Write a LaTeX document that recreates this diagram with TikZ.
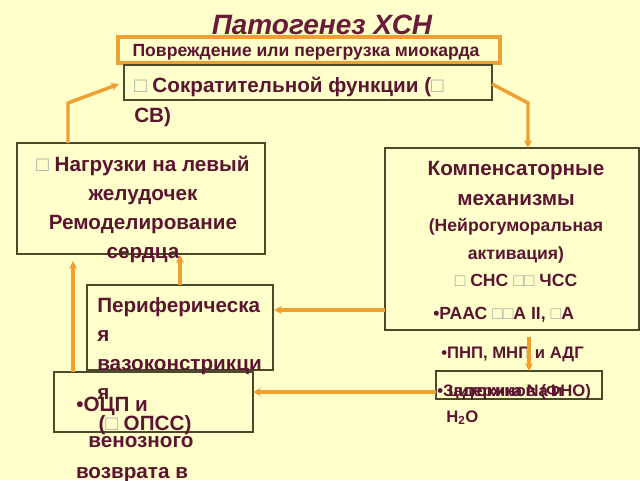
\documentclass[tikz,border=0pt]{standalone}
\usepackage{fontspec}
\setmainfont{Liberation Sans}
\usetikzlibrary{arrows.meta}
\definecolor{bgc}{HTML}{FFFFCC}
\definecolor{tc}{HTML}{5C1530}
\definecolor{titlec}{HTML}{6A1B3A}
\definecolor{oc}{HTML}{EFA030}
\definecolor{bc}{HTML}{4A4A2A}
\newcommand{\sq}{{\color{black!35}\mdseries□}}
\begin{document}
\begin{tikzpicture}[x=0.75pt,y=-0.75pt,
  box/.style={draw=bc, line width=0.9pt, anchor=north west, inner sep=0pt, outer sep=0pt},
  obox/.style={draw=oc, line width=2.4pt, anchor=north west, inner sep=0pt, outer sep=0pt},
  big/.style={text=tc, inner sep=0pt, font=\bfseries\fontsize{15.5}{17}\selectfont},
  mid/.style={text=tc, inner sep=0pt, font=\bfseries\fontsize{13.2}{15}\selectfont},
  sml/.style={text=tc, inner sep=0pt, font=\bfseries\fontsize{12.5}{14}\selectfont},
  arr/.style={draw=oc, line width=2.6pt, -{Stealth[length=6pt,width=6pt]}}]
\fill[bgc] (0,0) rectangle (640,480);
\useasboundingbox (0,0) rectangle (640,480);
% title
\node[anchor=base, text=titlec, inner sep=0pt, font=\bfseries\itshape\fontsize{21}{24}\selectfont] (title) at (322,34) {Патогенез ХСН};
% boxes
\node[obox, minimum width=286.5pt, minimum height=19.5pt] (b1) at (118,37) {};
\node[box, minimum width=276pt, minimum height=26.25pt] (b2) at (124,65) {};
\node[box, minimum width=186pt, minimum height=83.25pt] (b3) at (17,143) {};
\node[box, minimum width=190.5pt, minimum height=136.5pt] (b4) at (385,148) {};
\node[box, minimum width=139.5pt, minimum height=63.75pt] (b6) at (87,285) {};
\node[box, minimum width=149.25pt, minimum height=45pt] (b7) at (54,372) {};
\node[box, minimum width=124.5pt, minimum height=21pt] (b5) at (436,371) {};
% texts
\node[mid, anchor=base] (t1) at (306,56) {Повреждение или перегрузка миокарда};
\node[big, anchor=base west] (t2a) at (134,92) {\sq{} Сократительной функции (\sq};
\node[big, anchor=base west] (t2b) at (134,122) {СВ)};
\node[big, anchor=base] (t3a) at (143,171) {\sq{} Нагрузки на левый};
\node[big, anchor=base] (t3b) at (143,200) {желудочек};
\node[big, anchor=base] (t3c) at (143,229) {Ремоделирование};
\node[big, anchor=base] (t3d) at (143,258) {сердца};
\node[big, anchor=base] (t4a) at (516,175) {Компенсаторные};
\node[big, anchor=base] (t4b) at (516,205) {механизмы};
\node[mid, anchor=base] (t4c) at (516,231) {(Нейрогуморальная};
\node[mid, anchor=base] (t4d) at (516,259) {активация)};
\node[mid, anchor=base] (t4e) at (516,286) {\sq{} СНС \sq\sq{} ЧСС};
\node[mid, anchor=base west] (t4f) at (433,319) {•РААС \sq\sq А II, \sq А};
\node[sml, anchor=base west] (t8) at (441,358) {•ПНП, МНП и АДГ};
\node[sml, anchor=base west] (t5a) at (437,396) {•Задержка Na и};
\node[sml, anchor=base west] (t5b) at (448,396) {цитокинов (ФНО)};
\node[sml, anchor=base west] (t5c) at (446,422) {H\textsubscript{2}O};
\node[big, anchor=base west] (t6a) at (97,312) {Периферическа};
\node[big, anchor=base west] (t6b) at (97,341) {я};
\node[big, anchor=base west] (t6c) at (97,370) {вазоконстрикци};
\node[big, anchor=base west] (t6d) at (97,399) {я};
\node[big, anchor=base west] (t7a) at (76,411) {•ОЦП и};
\node[big, anchor=base] (t7b) at (145,430) {(\sq{} ОПСС)};
\node[big, anchor=base] (t7c) at (141,447) {венозного};
\node[big, anchor=base] (t7d) at (132,478) {возврата в};
% connector coordinates
\coordinate (c1s) at (68,143);
\coordinate (c1m) at (68,103);
\coordinate (c1e) at (119,84);
\coordinate (c2s) at (492,84);
\coordinate (c2m) at (528,103);
\coordinate (c2e) at (528,148);
\coordinate (c3s) at (73,372);
\coordinate (c3e) at (73,261);
\coordinate (c4s) at (180,285);
\coordinate (c4e) at (180,255);
\coordinate (c5s) at (385,310);
\coordinate (c5e) at (274,310);
\coordinate (c6s) at (436,392);
\coordinate (c6e) at (253,392);
\coordinate (c7s) at (529,337);
\coordinate (c7e) at (529,371);
% connectors
\draw[arr] (c1s) -- (c1m) -- (c1e);
\draw[arr] (c2s) -- (c2m) -- (c2e);
\draw[arr] (c3s) -- (c3e);
\draw[arr] (c4s) -- (c4e);
\draw[arr] (c5s) -- (c5e);
\draw[arr] (c6s) -- (c6e);
\draw[arr] (c7s) -- (c7e);
\end{tikzpicture}
\end{document}
